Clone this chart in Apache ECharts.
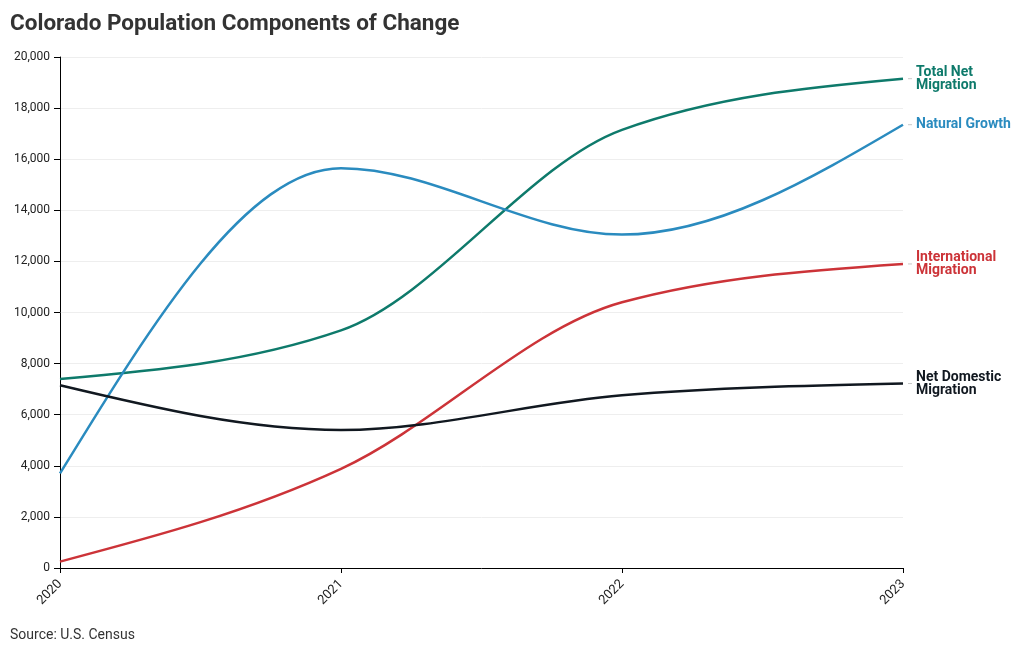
<!DOCTYPE html>
<html>
<head>
<meta charset="utf-8">
<script src="https://cdn.jsdelivr.net/npm/echarts@6/dist/echarts.min.js"></script>
<style>html,body{margin:0;padding:0;background:#fff}#c{width:1020px;height:650px}</style>
</head>
<body>
<div id="c"></div>
<script>
const years = ['2020', '2021', '2022', '2023'];
const totalNetMigration = [7400, 9300, 17150, 19150];
const naturalGrowth = [3700, 15650, 13050, 17350];
const internationalMigration = [250, 3880, 10400, 11900];
const netDomesticMigration = [7150, 5400, 6760, 7220];
const yTicks = [0, 2000, 4000, 6000, 8000, 10000, 12000, 14000, 16000, 18000, 20000];

const seriesDefs = [
  { name: 'Total Net\nMigration', data: totalNetMigration, color: '#0e7a6b' },
  { name: 'Natural Growth', data: naturalGrowth, color: '#2a8bbf' },
  { name: 'International\nMigration', data: internationalMigration, color: '#cc3338' },
  { name: 'Net Domestic\nMigration', data: netDomesticMigration, color: '#111820' }
];

// Monotone-X cubic path (same construction as d3.curveMonotoneX) built from pixel points
function sign(v) { return v < 0 ? -1 : 1; }
function monotonePath(pts) {
  const n = pts.length;
  const t = new Array(n);
  for (let i = 1; i < n - 1; i++) {
    const [x0, y0] = pts[i - 1], [x1, y1] = pts[i], [x2, y2] = pts[i + 1];
    const h0 = x1 - x0, h1 = x2 - x1;
    const s0 = (y1 - y0) / h0, s1 = (y2 - y1) / h1;
    const p = (s0 * h1 + s1 * h0) / (h0 + h1);
    t[i] = (sign(s0) + sign(s1)) * Math.min(Math.abs(s0), Math.abs(s1), 0.5 * Math.abs(p)) || 0;
  }
  {
    const h = pts[1][0] - pts[0][0];
    t[0] = (3 * (pts[1][1] - pts[0][1]) / h - t[1]) / 2;
    const h2 = pts[n - 1][0] - pts[n - 2][0];
    t[n - 1] = (3 * (pts[n - 1][1] - pts[n - 2][1]) / h2 - t[n - 2]) / 2;
  }
  let d = 'M' + pts[0][0] + ',' + pts[0][1];
  for (let i = 0; i < n - 1; i++) {
    const [x0, y0] = pts[i], [x1, y1] = pts[i + 1];
    const dx = (x1 - x0) / 3;
    d += ' C' + (x0 + dx) + ',' + (y0 + dx * t[i]) + ' ' + (x1 - dx) + ',' + (y1 - dx * t[i + 1]) + ' ' + x1 + ',' + y1;
  }
  return d;
}

const series = seriesDefs.map(s => ({
  type: 'custom',
  name: s.name,
  data: s.data.map((v, i) => [i, v]),
  encode: { x: 0, y: 1 },
  clip: false,
  z: 3,
  renderItem: function (params, api) {
    if (params.dataIndex !== 0) return null;
    const pts = s.data.map((v, i) => api.coord([i, v]));
    const end = pts[pts.length - 1];
    return {
      type: 'group',
      children: [
        { type: 'path', shape: { pathData: monotonePath(pts) },
          style: { fill: 'none', stroke: s.color, lineWidth: 2.5 } },
        { type: 'line', shape: { x1: end[0] + 5, y1: end[1], x2: end[0] + 9, y2: end[1] },
          style: { stroke: '#c8c8c8', lineWidth: 1 } },
        { type: 'text', x: end[0] + 13, y: end[1],
          style: { text: s.name, fill: s.color, fontFamily: 'Roboto', fontWeight: 'bold',
            fontSize: 14, lineHeight: 13, verticalAlign: 'middle', align: 'left' } }
      ]
    };
  }
}));

const chart = echarts.init(document.getElementById('c'), null, { renderer: 'canvas' });
chart.setOption({
  animation: false,
  title: [
    { text: 'Colorado Population Components of Change', left: 5, top: 8,
      textStyle: { fontFamily: 'Roboto', fontWeight: 'bold', fontSize: 22.5, color: '#333' } },
    { text: 'Source: U.S. Census', left: 5, top: 623,
      textStyle: { fontFamily: 'Roboto', fontWeight: 'normal', fontSize: 14, color: '#333' } }
  ],
  grid: { left: 60, right: 117, top: 57, bottom: 82 },
  xAxis: {
    type: 'category', data: years, boundaryGap: false,
    axisLine: { lineStyle: { color: '#000', width: 1 } },
    axisTick: { show: true, length: 5, lineStyle: { color: '#000' } },
    axisLabel: { rotate: 45, fontFamily: 'Roboto', fontSize: 13, color: '#222', margin: 14 },
    splitLine: { show: false }
  },
  yAxis: {
    type: 'value', min: yTicks[0], max: yTicks[yTicks.length - 1], interval: 2000,
    axisLine: { show: true, lineStyle: { color: '#000', width: 1 } },
    axisTick: { show: true, length: 6, lineStyle: { color: '#000' } },
    axisLabel: { fontFamily: 'Roboto', fontSize: 12, color: '#222', margin: 10,
      formatter: v => v.toLocaleString('en-US') },
    splitLine: { show: true, lineStyle: { color: '#eee', width: 1 } }
  },
  series: series
});
</script>
</body>
</html>
